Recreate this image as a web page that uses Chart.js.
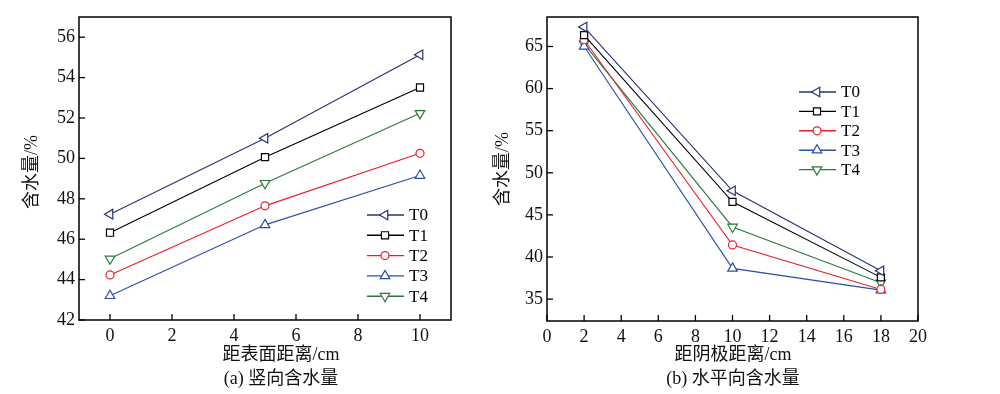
<!DOCTYPE html>
<html>
<head>
<meta charset="utf-8">
<script src="https://cdn.jsdelivr.net/npm/chart.js@4.4.1/dist/chart.umd.min.js"></script>
<style>
  body { margin: 0; background: #fff; }
  #wrap { position: relative; width: 1000px; height: 394px; }
  #left { position: absolute; left: 0; top: 0; }
  #right { position: absolute; left: 490px; top: 0; }
</style>
</head>
<body>
<div id="wrap">
  <canvas id="left" width="490" height="394"></canvas>
  <canvas id="right" width="510" height="394"></canvas>
</div>
<script>
// series names and colours
const seriesNames = ['T0', 'T1', 'T2', 'T3', 'T4'];
const seriesColors = ['#28336f', '#000000', '#e8202a', '#2b4ea6', '#2b7a3b'];

// (a) vertical water content vs distance from surface
const xLeft = [0, 5, 10];
const t0Left = [47.24, 51.0, 55.13];
const t1Left = [46.32, 50.06, 53.51];
const t2Left = [44.23, 47.65, 50.25];
const t3Left = [43.2, 46.71, 49.15];
const t4Left = [45.03, 48.77, 52.23];
const xTicksLeft = [0, 2, 4, 6, 8, 10];
const yTicksLeft = [42, 44, 46, 48, 50, 52, 54, 56];

// (b) horizontal water content vs distance from cathode
const xRight = [2, 10, 18];
const t0Right = [67.3, 47.86, 38.37];
const t1Right = [66.35, 46.55, 37.58];
const t2Right = [65.8, 41.43, 36.15];
const t3Right = [65.0, 38.65, 36.07];
const t4Right = [65.3, 43.57, 36.94];
const xTicksRight = [0, 2, 4, 6, 8, 10, 12, 14, 16, 18, 20];
const yTicksRight = [35, 40, 45, 50, 55, 60, 65];

const markers = [
  { style: 'triangle', rotation: 270, radius: 5.5 },
  { style: 'rect', rotation: 0, radius: 5 },
  { style: 'circle', rotation: 0, radius: 4 },
  { style: 'triangle', rotation: 0, radius: 5.5 },
  { style: 'triangle', rotation: 180, radius: 5.5 }
];

const FONT = '"Liberation Serif", "Noto Sans CJK SC", serif';

function makeDatasets(xs, rows) {
  return rows.map((ys, i) => ({
    label: seriesNames[i],
    data: xs.map((x, j) => ({ x: x, y: ys[j] })),
    borderColor: seriesColors[i],
    borderWidth: 1.1,
    pointStyle: markers[i].style,
    rotation: markers[i].rotation,
    pointRadius: markers[i].radius,
    pointBackgroundColor: '#ffffff',
    pointBorderColor: seriesColors[i],
    pointBorderWidth: 1.2,
    fill: false,
    tension: 0
  }));
}

// box, inward ticks, legend and texts
const decor = {
  id: 'decor',
  afterDraw(chart, args, opts) {
    const ctx = chart.ctx;
    const a = chart.chartArea;
    ctx.save();
    ctx.strokeStyle = '#000';
    ctx.lineWidth = 1.5;
    ctx.strokeRect(a.left, a.top, a.right - a.left, a.bottom - a.top);
    ctx.lineWidth = 1.3;
    chart.scales.x.ticks.forEach(t => {
      const px = chart.scales.x.getPixelForValue(t.value);
      ctx.beginPath(); ctx.moveTo(px, a.bottom); ctx.lineTo(px, a.bottom - 6); ctx.stroke();
    });
    chart.scales.y.ticks.forEach(t => {
      const py = chart.scales.y.getPixelForValue(t.value);
      ctx.beginPath(); ctx.moveTo(a.left, py); ctx.lineTo(a.left + 6, py); ctx.stroke();
    });

    // legend
    const lg = opts.legend;
    ctx.font = '17px ' + FONT;
    ctx.textBaseline = 'middle';
    ctx.textAlign = 'left';
    chart.data.datasets.forEach((ds, i) => {
      const y = lg.y + i * lg.step;
      ctx.strokeStyle = ds.borderColor;
      ctx.lineWidth = 1.4;
      ctx.beginPath(); ctx.moveTo(lg.x, y); ctx.lineTo(lg.x + 37, y); ctx.stroke();
      ctx.fillStyle = '#fff';
      ctx.lineWidth = 1.2;
      Chart.helpers.drawPoint(ctx, {
        pointStyle: ds.pointStyle, rotation: ds.rotation, radius: ds.pointRadius, borderWidth: 1.2
      }, lg.x + 18, y);
      ctx.fillStyle = '#000';
      ctx.fillText(ds.label, lg.x + 42, y + 1);
    });

    // titles
    ctx.font = '18px ' + FONT;
    ctx.fillStyle = '#111';
    ctx.textAlign = 'center';
    ctx.fillText(opts.xTitle.text, opts.xTitle.x, 355);
    ctx.fillText(opts.caption.text, opts.caption.x, 379);
    ctx.translate(opts.yTitle.x, opts.yTitle.y);
    ctx.rotate(-Math.PI / 2);
    ctx.fillText(opts.yTitle.text, 0, 0);
    ctx.restore();
  }
};

function makeChart(id, xs, rows, cfg) {
  return new Chart(document.getElementById(id), {
    type: 'line',
    data: { datasets: makeDatasets(xs, rows) },
    plugins: [decor],
    options: {
      responsive: false,
      animation: false,
      devicePixelRatio: 1,
      layout: { padding: cfg.padding },
      plugins: {
        legend: { display: false },
        tooltip: { enabled: false },
        decor: cfg.decor
      },
      scales: {
        x: {
          type: 'linear',
          min: cfg.xMin, max: cfg.xMax,
          grid: { display: false, drawTicks: false },
          border: { display: false },
          ticks: { autoSkip: false, maxRotation: 0, padding: 5, color: '#111', font: { family: FONT, size: 18 } },
          afterBuildTicks: s => { s.ticks = cfg.xTicks.map(v => ({ value: v })); },
          afterFit: s => { s.height = cfg.xHeight; }
        },
        y: {
          min: cfg.yMin, max: cfg.yMax,
          grid: { display: false, drawTicks: false },
          border: { display: false },
          ticks: { autoSkip: false, padding: 4, color: '#111', font: { family: FONT, size: 18 } },
          afterBuildTicks: s => { s.ticks = cfg.yTicks.map(v => ({ value: v })); },
          afterFit: s => { s.width = cfg.yWidth; }
        }
      }
    }
  });
}

makeChart('left', xLeft, [t0Left, t1Left, t2Left, t3Left, t4Left], {
  padding: { left: 0, right: 39, top: 17, bottom: 0 },
  xMin: -1, xMax: 11, yMin: 42, yMax: 57,
  xTicks: xTicksLeft, yTicks: yTicksLeft,
  xHeight: 74, yWidth: 79,
  decor: {
    legend: { x: 367, y: 215, step: 20.3 },
    xTitle: { text: '距表面距离/cm', x: 281 },
    caption: { text: '(a) 竖向含水量', x: 281 },
    yTitle: { text: '含水量/%', x: 32, y: 172 }
  }
});

makeChart('right', xRight, [t0Right, t1Right, t2Right, t3Right, t4Right], {
  padding: { left: 0, right: 82, top: 17, bottom: 0 },
  xMin: 0, xMax: 20, yMin: 32.4, yMax: 68.5,
  xTicks: xTicksRight, yTicks: yTicksRight,
  xHeight: 73, yWidth: 57,
  decor: {
    legend: { x: 309, y: 92, step: 19.4 },
    xTitle: { text: '距阴极距离/cm', x: 243 },
    caption: { text: '(b) 水平向含水量', x: 243 },
    yTitle: { text: '含水量/%', x: 13, y: 169 }
  }
});
</script>
</body>
</html>
